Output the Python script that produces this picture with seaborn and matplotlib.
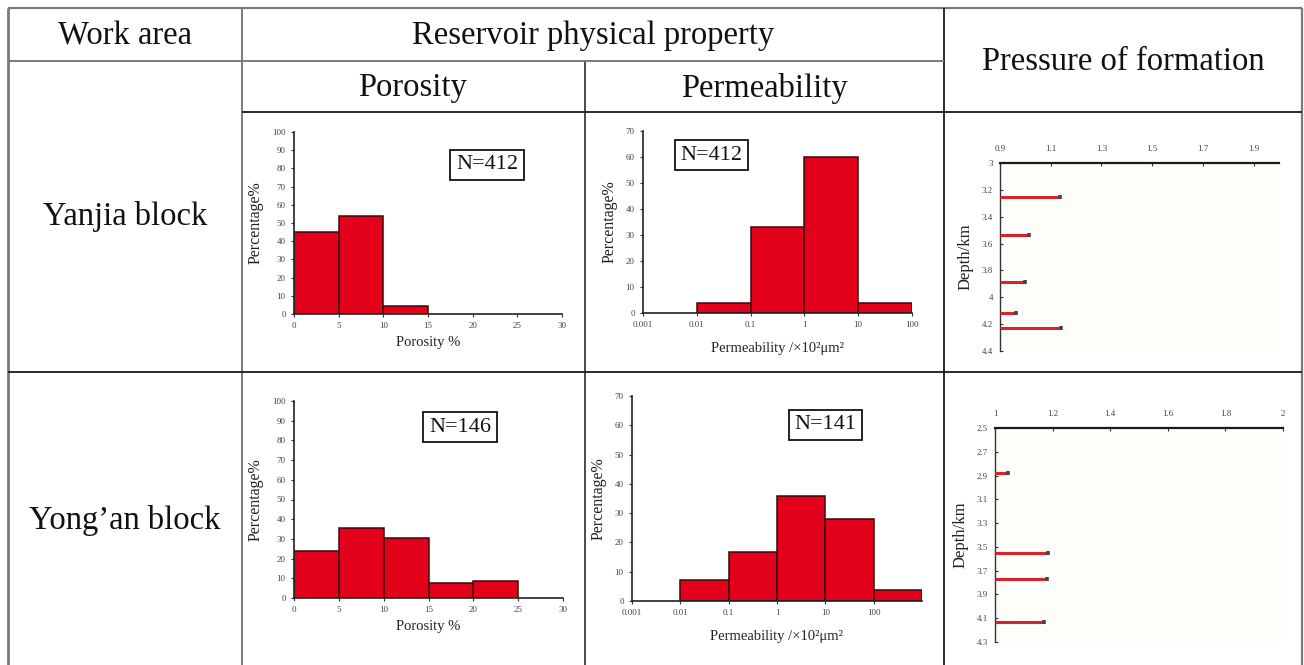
import numpy as np
import matplotlib
matplotlib.use("Agg")
import matplotlib.pyplot as plt
import seaborn as sns

sns.set_theme(style="white")
plt.rcParams['font.family'] = ['Liberation Serif', 'DejaVu Serif']

# ---------------- data ----------------
areas = ["Yanjia block", "Yong\u2019an block"]

porosity_edges = [0, 5, 10, 15, 20, 25]
yanjia_porosity_pct = [45, 54, 4.5]
yongan_porosity_pct = [24, 35.5, 30.5, 7.5, 8.5]
porosity_ticks = [0, 5, 10, 15, 20, 25, 30]
porosity_pct_ticks = [0, 10, 20, 30, 40, 50, 60, 70, 80, 90, 100]

perm_edges = [0.01, 0.1, 1, 10, 100, 1000]
yanjia_perm_pct = [4, 33, 60, 4]
yongan_perm_pct = [7.2, 16.8, 36, 28, 3.6]
perm_ticks = [0.001, 0.01, 0.1, 1, 10, 100]
perm_tick_labels = ["0.001", "0.01", "0.1", "1", "10", "100"]
perm_pct_ticks = [0, 10, 20, 30, 40, 50, 60, 70]

sample_counts = {"yanjia_por": 412, "yanjia_perm": 412,
                 "yongan_por": 146, "yongan_perm": 141}

yanjia_depth = [3.255, 3.536, 3.889, 4.114, 4.229]
yanjia_pressure = [1.137, 1.015, 1.0, 0.963, 1.14]
yanjia_p_ticks = [0.9, 1.1, 1.3, 1.5, 1.7, 1.9]
yanjia_p_labels = ["0.9", "1.1", "1.3", "1.5", "1.7", "1.9"]
yanjia_d_ticks = [3, 3.2, 3.4, 3.6, 3.8, 4, 4.2, 4.4]
yanjia_d_labels = ["3", "3.2", "3.4", "3.6", "3.8", "4", "4.2", "4.4"]

yongan_depth = [2.881, 3.549, 3.77, 4.134]
yongan_pressure = [1.046, 1.185, 1.18, 1.171]
yongan_p_ticks = [1, 1.2, 1.4, 1.6, 1.8, 2]
yongan_p_labels = ["1", "1.2", "1.4", "1.6", "1.8", "2"]
yongan_d_ticks = [2.5, 2.7, 2.9, 3.1, 3.3, 3.5, 3.7, 3.9, 4.1, 4.3]
yongan_d_labels = ["2.5", "2.7", "2.9", "3.1", "3.3", "3.5", "3.7", "3.9", "4.1", "4.3"]

# ---------------- figure ----------------
W, H = 1304, 665
fig = plt.figure(figsize=(W / 100, H / 100), dpi=100)
fig.patch.set_facecolor("white")

def px_axes(x0, y0, x1, y1, **kw):
    return fig.add_axes([x0 / W, 1 - y1 / H, (x1 - x0) / W, (y1 - y0) / H], **kw)

# table frame and headings
bg = fig.add_axes([0, 0, 1, 1], zorder=-5)
bg.set_xlim(0, W)
bg.set_ylim(H, 0)
bg.axis("off")

grey = "#7a7a7a"
dark = "#1a1a1a"
frame = [
    ((8, 1302), (8, 8), grey, 1.6),
    ((8, 8), (8, 665), grey, 2.0),
    ((1302, 1302), (8, 665), grey, 1.6),
    ((242, 242), (8, 665), grey, 1.4),
    ((944, 944), (8, 665), dark, 1.3),
    ((585, 585), (61, 665), dark, 1.1),
    ((8, 944), (61, 61), grey, 1.4),
    ((242, 1302), (112, 112), dark, 1.3),
    ((8, 1302), (372, 372), dark, 1.3),
]
for xs, ys, c, lw in frame:
    bg.plot(xs, ys, color=c, lw=lw, solid_capstyle="butt")

hfs = 23.5
bg.text(125, 36, "Work area", ha="center", va="center", fontsize=hfs, color="#111")
bg.text(593, 36, "Reservoir physical property", ha="center", va="center", fontsize=hfs, color="#111")
bg.text(413, 88, "Porosity", ha="center", va="center", fontsize=hfs, color="#111")
bg.text(764, 88, "Permeability", ha="center", va="center", fontsize=hfs, color="#111")
bg.text(1123, 62, "Pressure of formation", ha="center", va="center", fontsize=hfs, color="#111")
bg.text(125, 216, areas[0], ha="center", va="center", fontsize=hfs, color="#111")
bg.text(125, 520, areas[1], ha="center", va="center", fontsize=hfs, color="#111")

bar_red = "#e2001a"
bar_edge = "#3b0a0a"
tick_kw = dict(labelsize=6.5, labelcolor="#444", length=2.5, width=0.8, color="#333")


def style_hist_axes(ax):
    ax.set_facecolor("white")
    for s in ("top", "right"):
        ax.spines[s].set_visible(False)
    for s in ("left", "bottom"):
        ax.spines[s].set_color("#222")
        ax.spines[s].set_linewidth(1.2)
    ax.tick_params(axis="both", which="major", direction="out", bottom=True, left=True, **tick_kw)
    ax.tick_params(axis="x", which="minor", bottom=False)


def n_box(ax, n, fx, fy):
    ax.text(fx, fy, f"N={n}", transform=ax.transAxes, ha="center", va="center",
            fontsize=16, color="#111",
            bbox=dict(boxstyle="square,pad=0.25", fc="white", ec="#111", lw=1.3))


def porosity_panel(box, pct, n, nfx, nfy):
    ax = px_axes(*box)
    edges = porosity_edges[:len(pct) + 1]
    centers = [(a + b) / 2 for a, b in zip(edges[:-1], edges[1:])]
    sns.histplot(x=centers, weights=pct, bins=edges, stat="count", ax=ax,
                 color=bar_red, edgecolor=bar_edge, linewidth=1.1, alpha=1)
    ax.set_xlim(0, 30)
    ax.set_ylim(0, 100)
    ax.set_xticks(porosity_ticks)
    ax.set_xticklabels([str(t) for t in porosity_ticks])
    ax.set_yticks(porosity_pct_ticks)
    ax.set_yticklabels([str(t) for t in porosity_pct_ticks])
    style_hist_axes(ax)
    ax.set_xlabel("Porosity %", fontsize=10.5, color="#222", labelpad=4)
    ax.set_ylabel("Percentage%", fontsize=11.5, color="#222", labelpad=6)
    n_box(ax, n, nfx, nfy)
    return ax


def perm_panel(box, pct, n, nfx, nfy, xmax):
    ax = px_axes(*box)
    edges = perm_edges[:len(pct) + 1]
    centers = [float(np.sqrt(a * b)) for a, b in zip(edges[:-1], edges[1:])]
    log_edges = [float(np.log10(e)) for e in edges]
    sns.histplot(x=centers, weights=list(pct), bins=log_edges, log_scale=True,
                 stat="count", ax=ax, color=bar_red, edgecolor=bar_edge,
                 linewidth=1.1, alpha=1)
    ax.set_xlim(0.001, xmax)
    ax.set_ylim(0, 70)
    ax.set_xticks(perm_ticks)
    ax.set_xticklabels(perm_tick_labels)
    ax.set_yticks(perm_pct_ticks)
    ax.set_yticklabels([str(t) for t in perm_pct_ticks])
    style_hist_axes(ax)
    ax.set_xlabel("Permeability /\u00d710\u00b2\u03bcm\u00b2", fontsize=10.5, color="#222", labelpad=9)
    ax.set_ylabel("Percentage%", fontsize=11.5, color="#222", labelpad=6)
    n_box(ax, n, nfx, nfy)
    return ax


def pressure_panel(box, depth, pressure, xlim, ylim, xt, xl, yt, yl):
    ax = px_axes(*box)
    ax.set_facecolor("#fdfdfa")
    ax.hlines(depth, xlim[0], pressure, color="#d8232a", lw=2.2, zorder=3)
    sns.scatterplot(x=pressure, y=depth, marker="|", s=5, color="#3d4a4a",
                    linewidth=2.6, ax=ax, zorder=4, legend=False)
    ax.set_xlim(*xlim)
    ax.set_ylim(ylim[1], ylim[0])
    ax.xaxis.tick_top()
    ax.set_xticks(xt)
    ax.set_xticklabels(xl)
    ax.set_yticks(yt)
    ax.set_yticklabels(yl)
    for s in ("bottom", "right"):
        ax.spines[s].set_visible(False)
    ax.spines["top"].set_color("#1a1a1a")
    ax.spines["top"].set_linewidth(1.6)
    ax.spines["left"].set_color("#333")
    ax.spines["left"].set_linewidth(1.0)
    ax.tick_params(axis="x", top=True, bottom=False, direction="in", pad=7,
                   labelsize=6.5, labelcolor="#444", length=2.5, width=0.8, color="#333")
    ax.tick_params(axis="y", left=True, direction="in", pad=5,
                   labelsize=6.5, labelcolor="#444", length=2.5, width=0.8, color="#333")
    ax.set_xlabel("")
    ax.set_ylabel("Depth/km", fontsize=12, color="#222", labelpad=6)
    return ax


porosity_panel((294, 132, 562, 314), yanjia_porosity_pct, sample_counts["yanjia_por"], 0.72, 0.82)
perm_panel((643, 131, 912, 313), yanjia_perm_pct, sample_counts["yanjia_perm"], 0.253, 0.868, 100)
pressure_panel((1000, 163, 1279, 351), yanjia_depth, yanjia_pressure, (0.9, 2.0), (3.0, 4.4),
               yanjia_p_ticks, yanjia_p_labels, yanjia_d_ticks, yanjia_d_labels)

porosity_panel((294, 401, 563, 598), yongan_porosity_pct, sample_counts["yongan_por"], 0.617, 0.868)
perm_panel((632, 396, 922, 601), yongan_perm_pct, sample_counts["yongan_perm"], 0.666, 0.859, 1000)
pressure_panel((995, 428, 1283, 642), yongan_depth, yongan_pressure, (1.0, 2.0), (2.5, 4.3),
               yongan_p_ticks, yongan_p_labels, yongan_d_ticks, yongan_d_labels)

fig.savefig("out.png", dpi=100)
